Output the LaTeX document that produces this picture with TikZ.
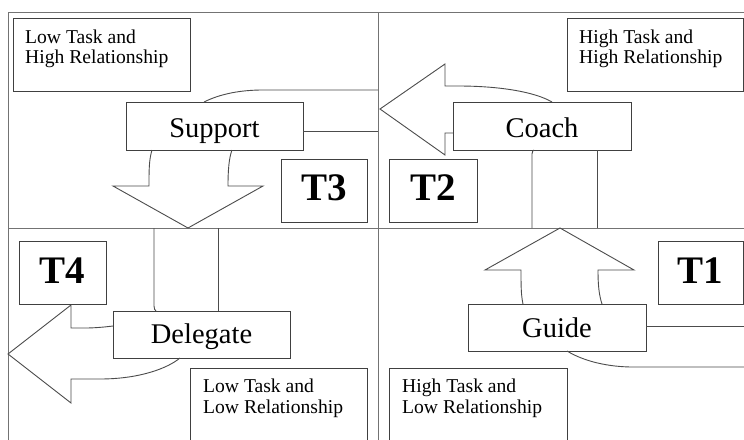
\documentclass[tikz,border=0pt]{standalone}
\usepackage{fontspec}
\setmainfont{Liberation Serif}
\usetikzlibrary{fit}
\begin{document}
\begin{tikzpicture}[x=1pt,y=-1pt,
  quad/.style={draw=black!55, line width=1pt},
  ln/.style={draw=black!70, line width=0.9pt},
  boxr/.style={draw=black!75, line width=0.9pt, fill=white, inner sep=0pt},
  small/.style={anchor=base west, inner sep=0pt, font=\fontsize{19.6}{21}\selectfont},
  big/.style={anchor=base, inner sep=0pt, font=\fontsize{28.5}{30}\selectfont},
  tlab/.style={anchor=base, inner sep=0pt, font=\fontsize{39}{42}\selectfont\bfseries}]
\useasboundingbox (0,0) rectangle (744,439);
\clip (0,0) rectangle (744,439);
\fill[white] (0,0) rectangle (744,439);
% quadrant frame
\coordinate (fTL) at (8,12);
\coordinate (fTR) at (750,12);
\coordinate (fBL) at (8,445);
\coordinate (cT) at (378,12);
\coordinate (cB) at (378,445);
\coordinate (mL) at (8,228);
\coordinate (mR) at (750,228);
\draw[quad] (fBL) -- (fTL) -- (fTR);
\draw[quad] (cT) -- (cB);
\draw[quad] (mL) -- (mR);

% main boxes
\node[boxr, fit={(126,102) (303,150)}] (support) {};
\node[big] (supportT) at (214.5,137) {Support};
\node[boxr, fit={(453,102) (631,150)}] (coach) {};
\node[big] (coachT) at (542,137) {Coach};
\node[boxr, fit={(113,311) (290,358)}] (delegate) {};
\node[big] (delegateT) at (201.5,343) {Delegate};
\node[boxr, fit={(468,304) (646,351)}] (guide) {};
\node[big] (guideT) at (557,337) {Guide};

% T boxes
\node[boxr, fit={(281,159) (367,222)}] (t3) {};
\node[tlab] (t3T) at (324,200) {T3};
\node[boxr, fit={(389,159) (477,222)}] (t2) {};
\node[tlab] (t2T) at (433,200) {T2};
\node[boxr, fit={(19,241) (106,304)}] (t4) {};
\node[tlab] (t4T) at (62.5,283) {T4};
\node[boxr, fit={(658,241) (743,304)}] (t1) {};
\node[tlab] (t1T) at (700.5,283) {T1};

% description boxes
\node[boxr, fit={(13,18) (190,91)}] (lthr) {};
\node[small] (lthr1) at (25,43) {Low Task and};
\node[small] (lthr2) at (25,63) {High Relationship};
\node[boxr, fit={(567,18) (743,91)}] (hthr) {};
\node[small] (hthr1) at (579,43) {High Task and};
\node[small] (hthr2) at (579,63) {High Relationship};
\node[boxr, fit={(190,368) (367,450)}] (ltlr) {};
\node[small] (ltlr1) at (203,392) {Low Task and};
\node[small] (ltlr2) at (203,413) {Low Relationship};
\node[boxr, fit={(389,368) (567,450)}] (htlr) {};
\node[small] (htlr1) at (402,392) {High Task and};
\node[small] (htlr2) at (402,413) {Low Relationship};

% Support tail lines to centre
\draw[ln] (204,102) .. controls (220,94) and (240,90) .. (263,90) -- (378,90);
\draw[ln] (303,131) -- (378,131);

% Coach -> left arrow
\draw[ln] (552,102) .. controls (535,92) and (500,86) .. (458,86) -- (445,86)
  -- (445,64) -- (380,109) -- (445,155) -- (445,133) -- (453,133);

% shaft below Coach
\draw[ln] (532,228) -- (532,154) .. controls (532,152) and (533,150) .. (534,150);
\draw[ln] (597,150) -- (597,228);

% Support down arrow
\draw[ln] (152,150) .. controls (149,160) and (149,170) .. (149,186) -- (113,186)
  -- (188,228) -- (263,186) -- (228,186) .. controls (228,170) and (229,158) .. (232,150);

% shaft above Delegate
\draw[ln] (154,228) -- (154,306) .. controls (154,309) and (155,310) .. (156,311);
\draw[ln] (218,228) -- (218,311);

% Delegate left arrow
\draw[ln] (113,326) .. controls (105,327) and (95,328) .. (85,328) -- (71,328) -- (71,305)
  -- (8,354) -- (71,403) -- (71,379) -- (100,379) .. controls (140,379) and (168,368) .. (180,358);

% Guide up arrow
\draw[ln] (523,304) .. controls (521,295) and (521,285) .. (521,270) -- (485,270)
  -- (560,228) -- (634,270) -- (598,270) .. controls (598,285) and (599,295) .. (602,304);

% Guide tail lines
\draw[ln] (646,326) -- (750,326);
\draw[ln] (567,351) .. controls (585,362) and (610,367) .. (633,367) -- (750,367);
\end{tikzpicture}
\end{document}
